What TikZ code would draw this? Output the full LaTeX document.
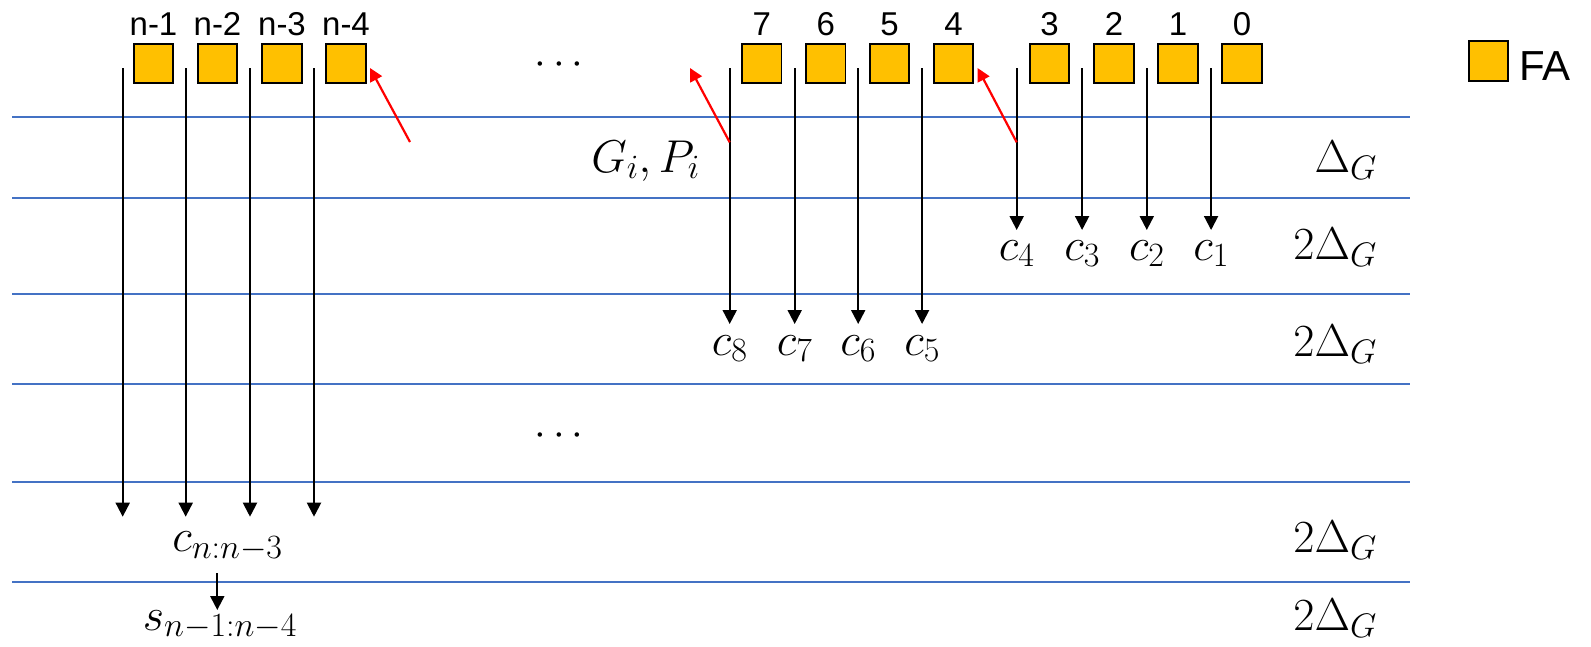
\RequirePackage{fix-cm}
\documentclass[tikz,border=0pt]{standalone}
\usepackage{fontspec}
\newfontfamily\arial{Liberation Sans}
\usetikzlibrary{arrows.meta}
\DeclareMathSizes{46}{46}{34}{26}
\definecolor{sepblue}{HTML}{4472C4}
\definecolor{faorange}{HTML}{FFC000}
\begin{document}
\begin{tikzpicture}[x=1pt,y=-1pt,
  fabox/.style={draw=black,line width=1.8pt,fill=faorange,minimum width=39.5pt,minimum height=39.5pt,inner sep=0pt},
  idx/.style={font=\arial\fontsize{33}{33}\selectfont,anchor=base,inner sep=0pt},
  mlab/.style={font=\fontsize{46}{46}\selectfont,inner sep=0pt},
  sig/.style={line width=2pt,-{Triangle[width=14pt,length=14pt]}},
  fb/.style={red,line width=2.2pt,-{Triangle[width=13pt,length=13pt]}},
  sepline/.style={sepblue,line width=1.8pt}]
\useasboundingbox (0,0) rectangle (1591,646);
% separator lines
\foreach \y in {117.3,197.7,293.7,383.8,481.7,581.7}
  \draw[sepline] (12,\y) -- (1410,\y);
% left FA boxes
\foreach \x/\n/\t in {153.5/a/n-1,217.5/b/n-2,282/c/n-3,346/d/n-4}{
  \node[fabox] (box\n) at (\x,63.4) {};
  \node[idx] (lab\n) at (\x,35) {\t};
}
% right FA boxes
\foreach \x/\t in {761.8/7,825.8/6,889.6/5,953.6/4,1049.5/3,1114/2,1178/1,1242/0}{
  \node[fabox] (box\t) at (\x,63.4) {};
  \node[idx] (lab\t) at (\x,35) {\t};
}
% ellipses
\node[font=\fontsize{42}{42}\selectfont,inner sep=0pt] (dotsA) at (559,65) {$\cdots$};
\node[font=\fontsize{42}{42}\selectfont,inner sep=0pt] (dotsB) at (559,436) {$\cdots$};
% left vertical arrows
\foreach \x/\n in {122.7/a,185.7/b,250/c,314/d}{
  \coordinate (top\n) at (\x,68);
  \coordinate (end\n) at (\x,516.7);
  \draw[sig] (top\n) -- (end\n);
}
% right vertical arrows to c8..c5
\foreach \x/\n in {729.7/8,794.7/7,858.2/6,922.1/5}{
  \coordinate (top\n) at (\x,68);
  \coordinate (end\n) at (\x,324);
  \draw[sig] (top\n) -- (end\n);
  \node[mlab,anchor=base] (c\n) at (\x,355) {$c_{\n}$};
}
% right vertical arrows to c4..c1
\foreach \x/\n in {1016.7/4,1082.1/3,1146.8/2,1211.1/1}{
  \coordinate (top\n) at (\x,68);
  \coordinate (end\n) at (\x,230);
  \draw[sig] (top\n) -- (end\n);
  \node[mlab,anchor=base] (c\n) at (\x,260) {$c_{\n}$};
}
% red feedback arrows
\coordinate (rfA) at (410,142);
\coordinate (rtA) at (370,68);
\coordinate (rfB) at (729.7,142.3);
\coordinate (rtB) at (690,68);
\coordinate (rfC) at (1016.7,142.3);
\coordinate (rtC) at (977.6,68);
\draw[fb] (rfA) -- (rtA);
\draw[fb] (rfB) -- (rtB);
\draw[fb] (rfC) -- (rtC);
% labels
\node[mlab,anchor=base east] (gp) at (700,172) {$G_i,P_i$};
\node[mlab,anchor=base] (cn) at (227.5,551.7) {$c_{n:n-3}$};
\coordinate (sa) at (217.3,573);
\coordinate (sb) at (217.3,610);
\draw[sig] (sa) -- (sb);
\node[mlab,anchor=base] (sn) at (220,630) {$s_{n-1:n-4}$};
% delay labels
\node[mlab,anchor=base east] (d1) at (1377,172) {$\Delta_G$};
\node[mlab,anchor=base east] (d2) at (1377,259.6) {$2\Delta_G$};
\node[mlab,anchor=base east] (d3) at (1377,356.4) {$2\Delta_G$};
\node[mlab,anchor=base east] (d4) at (1377,552) {$2\Delta_G$};
\node[mlab,anchor=base east] (d5) at (1377,630) {$2\Delta_G$};
% legend
\node[fabox] (leg) at (1488.5,61) {};
\node[font=\arial\fontsize{42}{42}\selectfont,anchor=base west,inner sep=0pt] (legt) at (1519,80) {FA};
\end{tikzpicture}
\end{document}
